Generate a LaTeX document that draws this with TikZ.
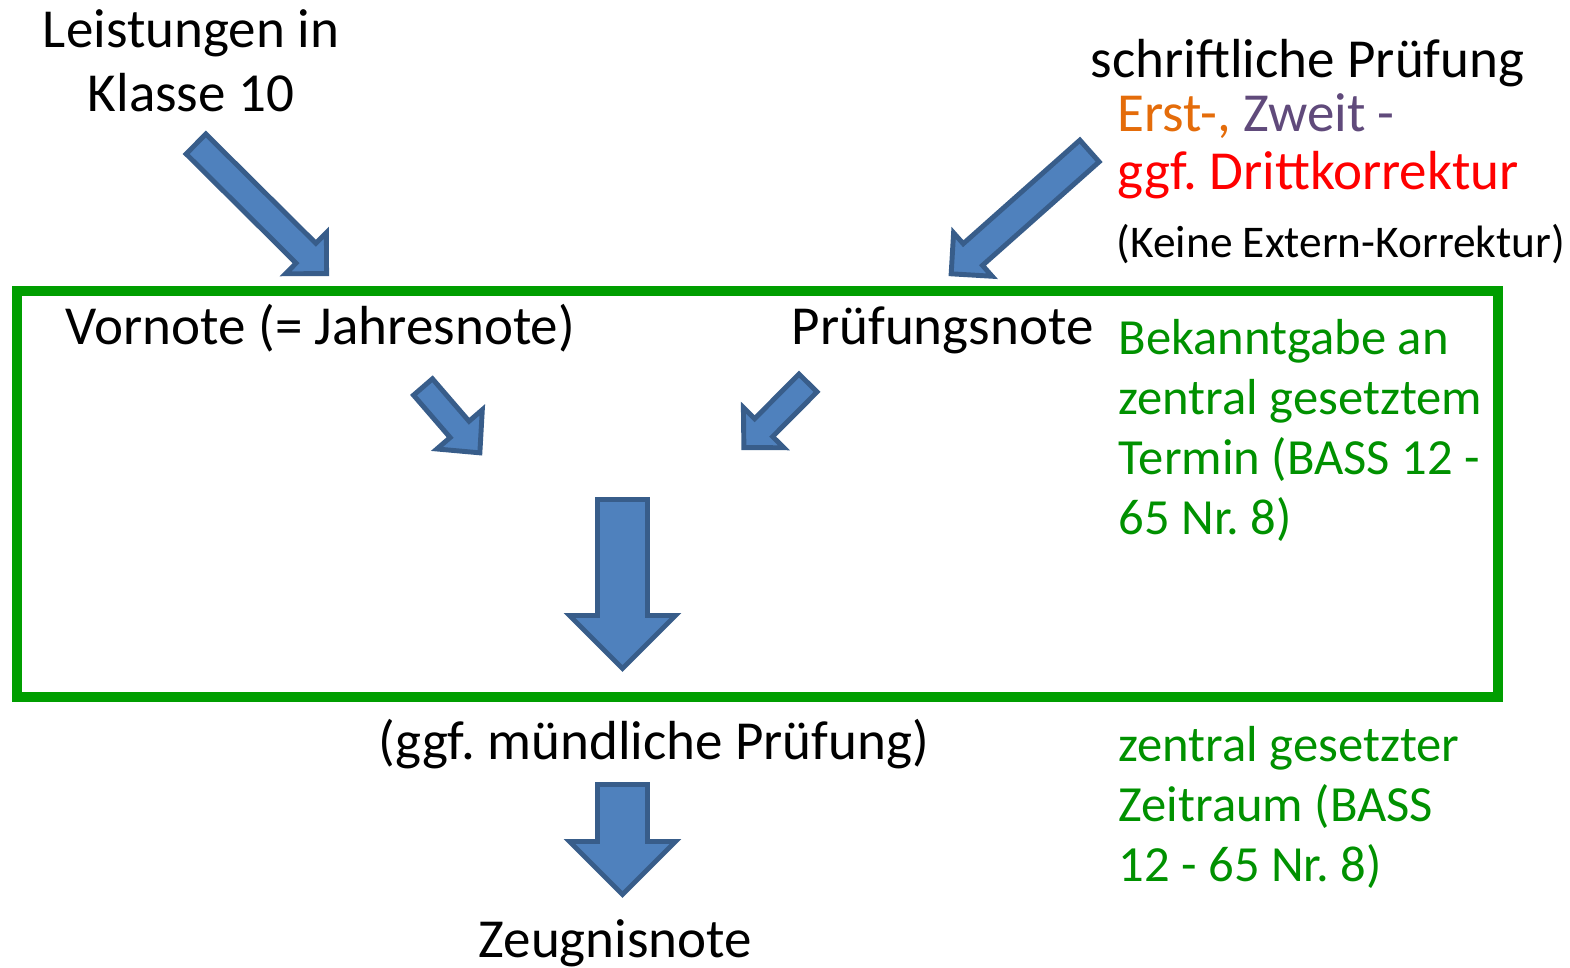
\documentclass[tikz,border=0pt]{standalone}
\usepackage{fontspec}
\setmainfont{Carlito}
\usepackage{tikz}
\usetikzlibrary{positioning}
\frenchspacing
\definecolor{arrfill}{RGB}{79,129,189}
\definecolor{arrline}{RGB}{56,93,138}
\definecolor{boxgreen}{RGB}{0,158,0}
\definecolor{txtgreen}{RGB}{0,145,0}
\definecolor{korrorange}{RGB}{228,108,10}
\definecolor{korrpurple}{RGB}{96,74,123}
\tikzset{
    blockarr/.style={
           fill=arrfill,
           draw=arrline,
           line width=1.4pt,
           line join=miter,
           },
    label/.style={
           inner sep=0pt,
           anchor=base west,
           font=\fontsize{15.65}{18.2}\selectfont,
           },
    note/.style={
           label,
           text=txtgreen,
           align=left,
           font=\fontsize{14.4}{17.1}\selectfont,
           },
}
% tail, angle, length, shaft half, head half, head length
\newcommand{\blockarrow}[6]{%
  \begin{scope}[shift={#1},rotate=#2]
    \draw[blockarr] (0,-#4) -- ({#3-#6},-#4) -- ({#3-#6},-#5) -- (#3,0)
      -- ({#3-#6},#5) -- ({#3-#6},#4) -- (0,#4) -- cycle;
  \end{scope}}

\begin{document}
\begin{tikzpicture}[x=0.01cm,y=-0.01cm]
  \useasboundingbox (0,0) rectangle (1570,968);

  % multi-line nodes sit on their last baseline
  \node[label,align=center,anchor=base] (leist) at (191,112) {Leistungen in\\Klasse 10};
  \node[label] (schrift) at (1090,78) {schriftliche Prüfung};
  \node[label,align=left,font=\fontsize{15.65}{16.5}\selectfont] (korr) at (1117,190)
       {{\color{korrorange}Erst-,} {\color{korrpurple}Zweit -}\\{\color{red}ggf. Drittkorrektur}};
  \node[label,font=\fontsize{12.9}{15}\selectfont] (extern) at (1116,258) {(Keine Extern-Korrektur)};

  \draw[boxgreen,line width=2.85pt] (17,291) rectangle (1498,697);

  \node[label] (vornote) at (65,345) {Vornote (= Jahresnote)};
  \node[label] (pruef) at (791,345) {Prüfungsnote};
  \node[note] (bekannt) at (1118,535) {Bekanntgabe an\\zentral gesetztem\\Termin (BASS 12 -\\65 Nr. 8)};

  \node[label] (muendl) at (378,760) {(ggf. mündliche Prüfung)};
  \node[note] (zeitraum) at (1118,882) {zentral gesetzter\\Zeitraum (BASS\\12 - 65 Nr. 8)};
  \node[label] (zeugnis) at (478,958) {Zeugnisnote};

  \blockarrow{(196,144)}{-44.8}{184}{14}{29}{29}
  \blockarrow{(1089.5,151)}{-138.4}{185}{14.5}{29}{29}
  \blockarrow{(423,387)}{-49.2}{87}{12.5}{30}{31}
  \blockarrow{(808,383)}{-134.8}{91}{12.7}{28.5}{28}
  \blockarrow{(622.5,499.5)}{-90}{169}{25}{53}{53}
  \blockarrow{(622.5,784.5)}{-90}{110}{25}{53}{53}
\end{tikzpicture}
\end{document}
